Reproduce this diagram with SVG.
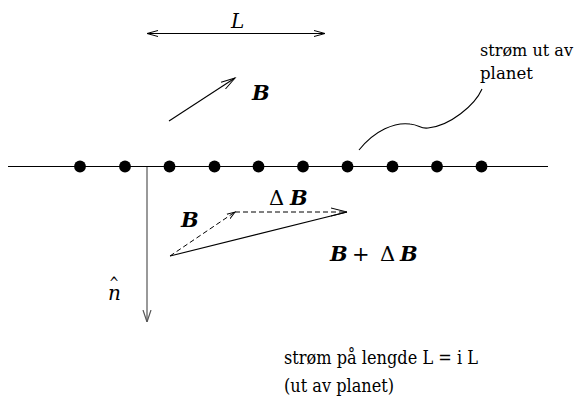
<svg xmlns="http://www.w3.org/2000/svg" width="582" height="403" viewBox="0 0 582 403">
<defs>
<marker id="head" markerWidth="14" markerHeight="10" refX="11" refY="5" orient="auto" markerUnits="userSpaceOnUse">
<path d="M0,2 L11,5 L0,8" fill="none" stroke="#000" stroke-width="1"/>
</marker>
<marker id="headStart" markerWidth="14" markerHeight="10" refX="11" refY="5" orient="auto-start-reverse" markerUnits="userSpaceOnUse">
<path d="M0,2 L11,5 L0,8" fill="none" stroke="#000" stroke-width="1"/>
</marker>
<marker id="headB" markerWidth="16" markerHeight="12" refX="14" refY="6" orient="auto" markerUnits="userSpaceOnUse">
<path d="M0,2 L14,6 L0,10" fill="none" stroke="#000" stroke-width="1"/>
</marker>
<marker id="headSmall" markerWidth="10" markerHeight="8" refX="8" refY="4" orient="auto" markerUnits="userSpaceOnUse">
<path d="M0,1.2 L8,4 L0,6.8" fill="none" stroke="#000" stroke-width="1"/>
</marker>
<marker id="headLong" markerWidth="18" markerHeight="12" refX="16" refY="6" orient="auto" markerUnits="userSpaceOnUse">
<path d="M0,2 L16,6 L0,10" fill="none" stroke="#000" stroke-width="1"/>
</marker>
<marker id="grayV" markerWidth="12" markerHeight="12" refX="12" refY="6" orient="auto" markerUnits="userSpaceOnUse">
<path d="M0,2 L12,6 L0,10" fill="none" stroke="#555" stroke-width="1.2"/>
</marker>
</defs>
<style>
.ln{stroke:#000;stroke-width:1.1;fill:none}
.dash{stroke:#000;stroke-width:1;fill:none;stroke-dasharray:5,3}
.dot{fill:#000}
text{font-family:'DejaVu Serif',serif;fill:#000}
.t{font-size:19px}
.tr{font-size:17px}
.bi{font-size:21px;font-weight:bold;font-style:italic}
.it{font-size:20px;font-style:italic}
.up{font-size:21px;font-style:normal;font-weight:normal}
</style>
<rect width="582" height="403" fill="#fff"/>
<g id="plane">
<line class="ln" x1="8" y1="166.5" x2="548" y2="166.5"/>
<circle class="dot" cx="80" cy="166.5" r="5.9"/>
<circle class="dot" cx="125" cy="166.5" r="5.9"/>
<circle class="dot" cx="169.5" cy="166.5" r="5.9"/>
<circle class="dot" cx="214.5" cy="166.5" r="5.9"/>
<circle class="dot" cx="258.5" cy="166.5" r="5.9"/>
<circle class="dot" cx="303" cy="166.5" r="5.9"/>
<circle class="dot" cx="347.5" cy="166.5" r="5.9"/>
<circle class="dot" cx="392.5" cy="166.5" r="5.9"/>
<circle class="dot" cx="437" cy="166.5" r="5.9"/>
<circle class="dot" cx="481.5" cy="166.5" r="5.9"/>
</g>
<g id="connectors">
<line class="ln" x1="147" y1="33.5" x2="325" y2="33.5" marker-start="url(#headStart)" marker-end="url(#head)"/>
<line class="ln" x1="169" y1="121" x2="235" y2="78" marker-end="url(#headB)"/>
<line x1="147" y1="167" x2="147" y2="322" stroke="#555" stroke-width="1.2" marker-end="url(#grayV)"/>
<line class="dash" x1="170" y1="256" x2="235" y2="212" marker-end="url(#headSmall)"/>
<line class="dash" x1="235" y1="212" x2="347" y2="212" marker-end="url(#headLong)"/>
<line class="ln" x1="170" y1="256" x2="347" y2="212"/>
<path class="ln" d="M359,150 C375,130 395,122 410,124 C420,125 420,129 428,128 C450,126 475,105 482,89"/>
</g>
<g id="labels">
<text class="it" x="231" y="28">L</text>
<text class="bi" x="252" y="100">B</text>
<text class="bi" x="181" y="227">B</text>
<text x="269" y="205"><tspan class="up">Δ</tspan><tspan class="bi" x="290">B</tspan></text>
<text x="330" y="261"><tspan class="bi">B</tspan><tspan class="up" x="352">+</tspan><tspan class="up" x="380">Δ</tspan><tspan class="bi" x="400">B</tspan></text>
<text><tspan x="109" y="289" font-size="16" textLength="10" lengthAdjust="spacingAndGlyphs">^</tspan><tspan class="it" x="108" y="300">n</tspan></text>
<text class="tr" x="480" y="56" textLength="93" lengthAdjust="spacingAndGlyphs">strøm ut av</text>
<text class="tr" x="480" y="79" textLength="53" lengthAdjust="spacingAndGlyphs">planet</text>
<text class="t" x="284" y="364" textLength="194" lengthAdjust="spacingAndGlyphs">strøm på lengde L = i L</text>
<text class="t" x="284" y="392" textLength="110" lengthAdjust="spacingAndGlyphs">(ut av planet)</text>
</g>
</svg>
